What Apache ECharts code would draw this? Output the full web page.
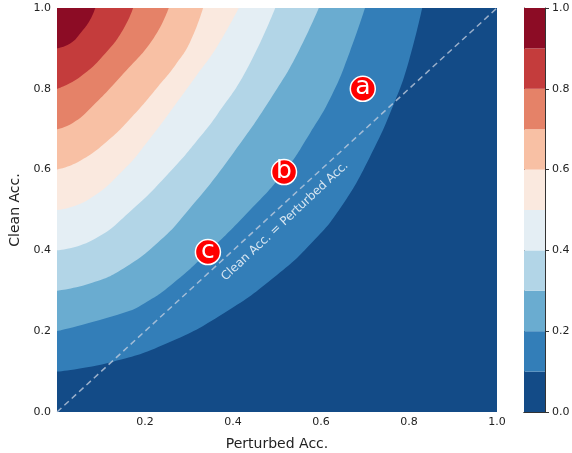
<!DOCTYPE html>
<html>
<head>
<meta charset="utf-8">
<script src="https://cdn.jsdelivr.net/npm/echarts@6/dist/echarts.min.js"></script>
<style>
  html, body { margin: 0; padding: 0; background: #fff; }
  #chart { width: 572px; height: 453px; }
</style>
</head>
<body>
<div id="chart"></div>
<script>
// band colours, lowest level first (RdBu_r, 10 levels)
const bandColors = [
  "#134b87", "#337eb8", "#6aacd0", "#b2d5e7", "#e4eef4",
  "#fae9df", "#f8c0a4", "#e58268", "#c43c3c", "#8c0c25"
];
const levels = [0, 0.1, 0.2, 0.3, 0.4, 0.5, 0.6, 0.7, 0.8, 0.9, 1.0];

// contour boundaries: [perturbed, clean]
const contour10 = [[0, 0.10], [0.125, 0.124], [0.25, 0.17], [0.38, 0.245], [0.5, 0.339], [0.58, 0.42], [0.644, 0.505], [0.71, 0.629], [0.768, 0.769], [0.80, 0.87], [0.83, 1.0]];
const contour20 = [[0, 0.20], [0.15, 0.245], [0.20, 0.27], [0.26, 0.315], [0.343, 0.396], [0.43, 0.49], [0.516, 0.594], [0.575, 0.69], [0.625, 0.785], [0.665, 0.89], [0.70, 1.0]];
const contour30 = [[0, 0.30], [0.08, 0.32], [0.152, 0.356], [0.23, 0.42], [0.295, 0.495], [0.40, 0.64], [0.50, 0.80], [0.55, 0.895], [0.595, 1.0]];
const contour40 = [[0, 0.40], [0.08, 0.425], [0.17, 0.5], [0.265, 0.604], [0.317, 0.67], [0.364, 0.736], [0.43, 0.845], [0.496, 1.0]];
const contour50 = [[0, 0.50], [0.07, 0.525], [0.152, 0.60], [0.21, 0.675], [0.265, 0.755], [0.315, 0.83], [0.364, 0.905], [0.413, 1.0]];
const contour60 = [[0, 0.60], [0.05, 0.62], [0.114, 0.67], [0.17, 0.73], [0.227, 0.802], [0.27, 0.86], [0.303, 0.917], [0.332, 1.0]];
const contour70 = [[0, 0.70], [0.035, 0.715], [0.076, 0.752], [0.152, 0.839], [0.22, 0.926], [0.254, 1.0]];
const contour80 = [[0, 0.80], [0.053, 0.83], [0.114, 0.893], [0.152, 0.95], [0.173, 1.0]];
const contour90 = [[0, 0.90], [0.03, 0.912], [0.055, 0.94], [0.075, 0.97], [0.087, 1.0]];
const contours = [contour10, contour20, contour30, contour40, contour50, contour60, contour70, contour80, contour90];

const diagonal = [[0, 0], [1, 1]];
const markerNames = ["a", "b", "c"];
const markerPoints = [[0.695, 0.80], [0.516, 0.594], [0.343, 0.396]];
const diagLabelPos = [0.518, 0.472];

const chart = echarts.init(document.getElementById("chart"));

const labelStyle = { color: "#222", fontSize: 11, fontFamily: "DejaVu Sans" };
const nameStyle = { color: "#222", fontSize: 14, fontFamily: "DejaVu Sans" };

// filled contours: each boundary fills up to the top of the plot
const contourSeries = contours.map((pts, i) => ({
  type: "line",
  data: pts,
  smooth: 0.5,
  symbol: "none",
  silent: true,
  lineStyle: { width: 0 },
  areaStyle: { color: bandColors[i + 1], opacity: 1, origin: "end" },
  z: 1
}));

// colour bar as stacked bar segments
const colorbarSeries = bandColors.map((c, i) => ({
  type: "bar",
  xAxisIndex: 1,
  yAxisIndex: 1,
  stack: "cb",
  barWidth: "100%",
  silent: true,
  data: [+(levels[i + 1] - levels[i]).toFixed(2)],
  itemStyle: { color: c }
}));

const option = {
  animation: false,
  backgroundColor: "#fff",
  grid: [
    { left: 57, right: 75, top: 8, bottom: 41, show: true, backgroundColor: bandColors[0], borderWidth: 0, outerBoundsMode: "none" },
    { left: 524, width: 21, top: 8, bottom: 41, outerBoundsMode: "none" }
  ],
  xAxis: [
    {
      type: "value", min: 0, max: 1, interval: 0.2,
      name: "Perturbed Acc.", nameLocation: "middle", nameGap: 25, nameTextStyle: nameStyle,
      axisLine: { show: false }, axisTick: { show: false }, splitLine: { show: false },
      axisLabel: { ...labelStyle, margin: 5, showMinLabel: false, formatter: (v) => v.toFixed(1) }
    },
    {
      type: "category", gridIndex: 1, data: ["cb"], position: "bottom",
      axisLine: { show: true, lineStyle: { color: "#333", width: 1 } },
      axisTick: { show: false }, axisLabel: { show: false }
    },
    {
      type: "category", gridIndex: 1, data: ["cb"], position: "top",
      axisLine: { show: true, lineStyle: { color: "#333", width: 1 } },
      axisTick: { show: false }, axisLabel: { show: false }
    }
  ],
  yAxis: [
    {
      type: "value", min: 0, max: 1, interval: 0.2,
      name: "Clean Acc.", nameLocation: "middle", nameGap: 33, nameRotate: 90, nameTextStyle: nameStyle,
      axisLine: { show: false }, axisTick: { show: false }, splitLine: { show: false },
      axisLabel: { ...labelStyle, margin: 6, formatter: (v) => v.toFixed(1) }
    },
    {
      type: "value", gridIndex: 1, min: 0, max: 1, interval: 0.2, position: "right",
      axisLine: { show: true, lineStyle: { color: "#333", width: 1 } },
      axisTick: { show: true, inside: false, length: 4, lineStyle: { color: "#333" } },
      splitLine: { show: false },
      axisLabel: { ...labelStyle, margin: 7, formatter: (v) => v.toFixed(1) }
    },
    {
      type: "value", gridIndex: 1, min: 0, max: 1, position: "left",
      axisLine: { show: true, lineStyle: { color: "#333", width: 1 } },
      axisTick: { show: false }, axisLabel: { show: false }, splitLine: { show: false }
    }
  ],
  series: [
    ...contourSeries,
    {
      type: "line",
      data: diagonal,
      symbol: "none",
      silent: true,
      lineStyle: { color: "rgba(200,210,225,0.75)", width: 1.5, type: [6, 4] },
      z: 3
    },
    {
      type: "scatter",
      data: [diagLabelPos],
      symbolSize: 0,
      silent: true,
      label: {
        show: true,
        position: "inside",
        rotate: 43,
        formatter: "Clean Acc. = Perturbed Acc.",
        color: "#fff",
        fontSize: 12,
        fontFamily: "DejaVu Sans"
      },
      z: 4
    },
    {
      type: "scatter",
      data: markerPoints.map((p, i) => ({ value: p, name: markerNames[i] })),
      symbolSize: 25,
      silent: true,
      itemStyle: { color: "#ff0000", opacity: 1, borderColor: "#fff", borderWidth: 1.5 },
      label: {
        show: true,
        position: "inside",
        formatter: (p) => p.name,
        color: "#fff",
        fontSize: 25,
        fontFamily: "DejaVu Sans",
        offset: [0, -1]
      },
      z: 5
    },
    ...colorbarSeries
  ]
};

chart.setOption(option);
</script>
</body>
</html>
